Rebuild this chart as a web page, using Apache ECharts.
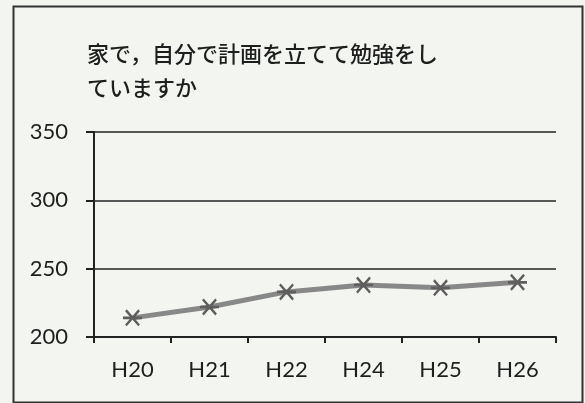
<!DOCTYPE html>
<html>
<head>
<meta charset="utf-8">
<script src="https://cdn.jsdelivr.net/npm/echarts@6/dist/echarts.min.js"></script>
<style>
html,body{margin:0;padding:0;background:#f3f5f1;}
#c{width:585px;height:403px;}
</style>
</head>
<body>
<div id="c"></div>
<script>
const titleText = '家で，自分で計画を立てて勉強をし\nていますか';
const categories = ['H20', 'H21', 'H22', 'H24', 'H25', 'H26'];
const values = [214, 222, 233, 238, 236, 240];
const yMin = 200, yMax = 350, yStep = 50;

const asterisk = 'path://M0 8.8 L20 8.8 L20 11.2 L0 11.2 Z M2.2 3.9 L3.9 2.2 L17.8 16.1 L16.1 17.8 Z M16.1 2.2 L17.8 3.9 L3.9 17.8 L2.2 16.1 Z';

const chart = echarts.init(document.getElementById('c'), null, {renderer: 'canvas'});
chart.setOption({
  backgroundColor: '#f3f5f1',
  animation: false,
  title: {
    text: titleText,
    left: 82, top: 32,
    textStyle: {fontFamily: 'Noto Sans CJK JP', fontSize: 22, fontWeight: 500, color: '#1e1e1e', lineHeight: 34}
  },
  graphic: [{
    type: 'rect', left: 11, top: 4,
    shape: {width: 569, height: 396},
    style: {fill: 'none', stroke: '#333', lineWidth: 2}
  }],
  grid: {left: 94, right: 29, top: 132, bottom: 66},
  xAxis: {
    type: 'category', data: categories, boundaryGap: true,
    axisLine: {lineStyle: {color: '#222', width: 2}},
    axisTick: {show: true, length: 6, inside: false, lineStyle: {color: '#222', width: 2}},
    axisLabel: {margin: 22, fontFamily: 'Lato', fontSize: 22, color: '#1e1e1e'}
  },
  yAxis: {
    type: 'value', min: yMin, max: yMax, interval: yStep,
    axisLine: {show: true, lineStyle: {color: '#222', width: 2}},
    axisTick: {show: true, length: 8, lineStyle: {color: '#222', width: 2}},
    splitLine: {lineStyle: {color: '#222', width: 1.6}},
    axisLabel: {margin: 26, fontFamily: 'Lato', fontSize: 22, color: '#1e1e1e'}
  },
  series: [{
    type: 'line', data: values,
    lineStyle: {color: '#888', width: 5},
    symbol: asterisk, symbolSize: [19, 17],
    itemStyle: {color: '#5e5e5e'},
    z: 5
  }]
});
</script>
</body>
</html>
